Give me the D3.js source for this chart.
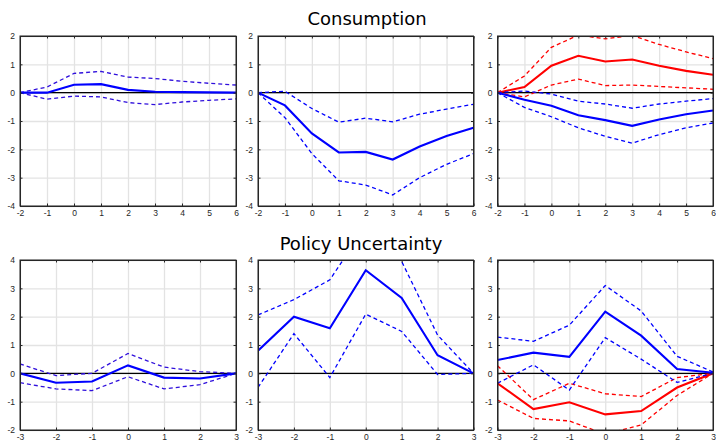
<!DOCTYPE html>
<html>
<head>
<meta charset="utf-8">
<script src="https://cdn.jsdelivr.net/npm/d3@7"></script>
<style>
  body { margin: 0; background: #fff; }
  text { font-family: "Liberation Sans", Arial, sans-serif; }
</style>
</head>
<body>
<div id="chart"></div>
<script>
// Horizons
const hTop = [-2, -1, 0, 1, 2, 3, 4, 5, 6];
const hBot = [-3, -2, -1, 0, 1, 2, 3];

// Consumption panels
const c1Mid = [0, 0, 0.28, 0.3, 0.1, 0.03, 0.02, 0.01, 0];
const c1Up = [0, 0.2, 0.68, 0.75, 0.55, 0.5, 0.4, 0.33, 0.27];
const c1Lo = [0, -0.23, -0.12, -0.15, -0.35, -0.42, -0.33, -0.27, -0.22];

const c2Mid = [0, -0.45, -1.44, -2.11, -2.09, -2.36, -1.9, -1.53, -1.24];
const c2Up = [0, 0.05, -0.56, -1.04, -0.9, -1.03, -0.76, -0.58, -0.41];
const c2Lo = [0, -0.88, -2.15, -3.11, -3.26, -3.61, -3.0, -2.53, -2.15];

const c3RedMid = [0, 0.2, 0.95, 1.3, 1.1, 1.17, 0.95, 0.77, 0.63];
const c3RedUp = [0, 0.59, 1.6, 2.03, 1.9, 2.02, 1.7, 1.44, 1.2];
const c3RedLo = [0, -0.15, 0.27, 0.48, 0.25, 0.27, 0.22, 0.17, 0.12];
const c3BlueMid = [0, -0.25, -0.46, -0.8, -0.97, -1.17, -0.95, -0.76, -0.63];
const c3BlueUp = [0, 0.06, -0.05, -0.3, -0.4, -0.55, -0.4, -0.3, -0.21];
const c3BlueLo = [0, -0.52, -0.85, -1.24, -1.54, -1.78, -1.48, -1.24, -1.07];

// Policy uncertainty panels
const u1Mid = [0, -0.33, -0.29, 0.28, -0.15, -0.18, 0];
const u1Up = [0.33, -0.08, 0, 0.7, 0.22, 0.06, 0];
const u1Lo = [-0.33, -0.55, -0.61, -0.12, -0.55, -0.4, 0];

const u2Mid = [0.8, 2.0, 1.59, 3.64, 2.66, 0.64, 0];
const u2Up = [2.06, 2.6, 3.3, 5.2, 3.95, 1.35, 0];
const u2Lo = [-0.5, 1.4, -0.15, 2.09, 1.48, -0.04, 0];

const u3BlueMid = [0.47, 0.73, 0.58, 2.18, 1.33, 0.15, 0.02];
const u3BlueUp = [1.28, 1.13, 1.7, 3.1, 2.2, 0.6, 0.05];
const u3BlueLo = [-0.35, 0.3, -0.59, 1.26, 0.5, -0.32, 0];
const u3RedMid = [-0.35, -1.26, -1.02, -1.45, -1.33, -0.5, 0];
const u3RedUp = [0.27, -0.93, -0.35, -0.72, -0.82, -0.15, 0];
const u3RedLo = [-0.94, -1.59, -1.68, -2.15, -1.82, -0.78, 0];

const yTicksTop = [-4, -3, -2, -1, 0, 1, 2];
const yTicksBot = [-2, -1, 0, 1, 2, 3, 4];

const titles = ["Consumption", "Policy Uncertainty"];

const BLUE = "#0000ff", RED = "#ff0000", PURPLE = "#2f0fdc";

const width = 716, height = 443;
const svg = d3.select("#chart").append("svg")
  .attr("width", width).attr("height", height);

const cols = [[20, 236], [258, 473.5], [497.5, 713]];
const rows = [[36, 206], [260, 430]];
const fmt = (d) => String(d); // plain hyphen minus, like the original

const panels = [
  { row: 0, col: 0, h: hTop, yd: [-4, 2], yt: yTicksTop, series: [
    { v: c1Up, c: PURPLE, dash: true }, { v: c1Lo, c: PURPLE, dash: true }, { v: c1Mid, c: BLUE } ] },
  { row: 0, col: 1, h: hTop, yd: [-4, 2], yt: yTicksTop, series: [
    { v: c2Up, c: BLUE, dash: true }, { v: c2Lo, c: BLUE, dash: true }, { v: c2Mid, c: BLUE } ] },
  { row: 0, col: 2, h: hTop, yd: [-4, 2], yt: yTicksTop, series: [
    { v: c3RedUp, c: RED, dash: true }, { v: c3RedLo, c: RED, dash: true }, { v: c3RedMid, c: RED },
    { v: c3BlueUp, c: BLUE, dash: true }, { v: c3BlueLo, c: BLUE, dash: true }, { v: c3BlueMid, c: BLUE } ] },
  { row: 1, col: 0, h: hBot, yd: [-2, 4], yt: yTicksBot, series: [
    { v: u1Up, c: PURPLE, dash: true }, { v: u1Lo, c: PURPLE, dash: true }, { v: u1Mid, c: BLUE } ] },
  { row: 1, col: 1, h: hBot, yd: [-2, 4], yt: yTicksBot, series: [
    { v: u2Up, c: BLUE, dash: true }, { v: u2Lo, c: BLUE, dash: true }, { v: u2Mid, c: BLUE } ] },
  { row: 1, col: 2, h: hBot, yd: [-2, 4], yt: yTicksBot, series: [
    { v: u3RedUp, c: RED, dash: true }, { v: u3RedLo, c: RED, dash: true }, { v: u3RedMid, c: RED },
    { v: u3BlueUp, c: BLUE, dash: true }, { v: u3BlueLo, c: BLUE, dash: true }, { v: u3BlueMid, c: BLUE } ] }
];

panels.forEach((p, i) => {
  const [x0, x1] = cols[p.col];
  const [y0, y1] = rows[p.row];
  const w = x1 - x0, h = y1 - y0;
  const x = d3.scaleLinear().domain(d3.extent(p.h)).range([0, w]);
  const y = d3.scaleLinear().domain(p.yd).range([h, 0]);

  const g = svg.append("g").attr("transform", `translate(${x0},${y0})`);

  g.append("clipPath").attr("id", "clip" + i)
    .append("rect").attr("width", w).attr("height", h);

  // Grid lines
  const gx = g.append("g").attr("transform", `translate(0,${h})`)
    .call(d3.axisBottom(x).tickValues(p.h).tickSize(-h).tickFormat(""));
  const gy = g.append("g")
    .call(d3.axisLeft(y).tickValues(p.yt).tickSize(-w).tickFormat(""));
  [gx, gy].forEach((a) => {
    a.select(".domain").remove();
    a.selectAll("line").attr("stroke", "#e3e3e3").attr("stroke-width", 1.3);
  });

  // Zero line
  g.append("line")
    .attr("x1", 0).attr("x2", w).attr("y1", y(0)).attr("y2", y(0))
    .attr("stroke", "#000").attr("stroke-width", 1.3);

  // Series
  const line = d3.line().x((d, j) => x(p.h[j])).y((d) => y(d));
  const lines = g.append("g").attr("clip-path", `url(#clip${i})`);
  p.series.forEach((s) => {
    lines.append("path")
      .datum(s.v)
      .attr("d", line)
      .attr("fill", "none")
      .attr("stroke", s.c)
      .attr("stroke-width", s.dash ? 1.3 : 2.1)
      .attr("stroke-dasharray", s.dash ? "4,3" : null);
  });

  // Axes with labels and inner ticks
  const ax = g.append("g").attr("transform", `translate(0,${h})`)
    .call(d3.axisBottom(x).tickValues(p.h).tickFormat(fmt).tickSizeInner(-2.5).tickSizeOuter(0).tickPadding(4));
  const ay = g.append("g")
    .call(d3.axisLeft(y).tickValues(p.yt).tickFormat(fmt).tickSizeInner(-2.5).tickSizeOuter(0).tickPadding(5));
  const axTop = g.append("g")
    .call(d3.axisTop(x).tickValues(p.h).tickSizeInner(-2.5).tickSizeOuter(0).tickFormat(""));
  const ayRight = g.append("g").attr("transform", `translate(${w},0)`)
    .call(d3.axisRight(y).tickValues(p.yt).tickSizeInner(-2.5).tickSizeOuter(0).tickFormat(""));
  [ax, ay, axTop, ayRight].forEach((a) => {
    a.select(".domain").attr("stroke", "#262626");
    a.selectAll("line").attr("stroke", "#262626");
    a.selectAll("text").attr("fill", "#262626").style("font-size", "8.5px");
  });

  // Frame
  g.append("rect").attr("width", w).attr("height", h)
    .attr("fill", "none").attr("stroke", "#262626").attr("stroke-width", 1);
});

// Row titles
svg.append("text").attr("x", 367).attr("y", 25)
  .attr("text-anchor", "middle")
  .style("font-family", "'DejaVu Sans', sans-serif").style("font-size", "18px")
  .text(titles[0]);
svg.append("text").attr("x", 361).attr("y", 250)
  .attr("text-anchor", "middle")
  .style("font-family", "'DejaVu Sans', sans-serif").style("font-size", "18px")
  .text(titles[1]);
</script>
</body>
</html>
